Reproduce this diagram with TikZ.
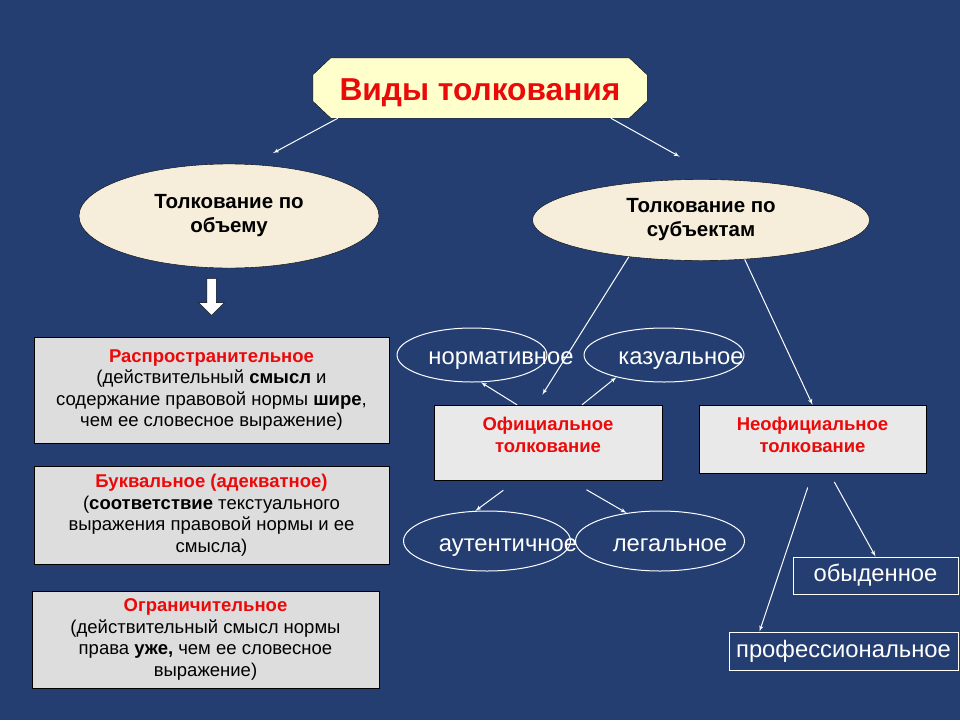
\documentclass[tikz,border=0pt]{standalone}
\usepackage{fontspec}
\setmainfont{Liberation Sans}
\usepackage{tikz}
\usetikzlibrary{shapes,arrows,positioning}
\definecolor{bgblue}{RGB}{36,62,114}
\definecolor{titlefill}{RGB}{255,255,204}
\definecolor{creamfill}{RGB}{246,237,218}
\definecolor{boxgray}{RGB}{221,221,221}
\definecolor{granite}{RGB}{233,233,233}
\definecolor{textred}{RGB}{235,10,10}
\tikzstyle{titleframe} = [rectangle, minimum width = 334pt, minimum height = 60pt, inner sep = 0pt]
\tikzstyle{titleshape} = [draw, fill = titlefill]
\tikzstyle{titletext} = [text = textred, font = \bfseries\fontsize{31.7}{36}\selectfont]
\tikzstyle{topic} = [ellipse, draw, fill = creamfill, inner sep = 0pt, align = center, font = \bfseries\fontsize{20.5}{24}\selectfont]
\tikzstyle{kindbox} = [rectangle, draw, fill = boxgray, minimum width = 355pt, inner sep = 0pt, align = center, font = \fontsize{18.5}{21.5}\selectfont]
\tikzstyle{subjbox} = [rectangle, draw, fill = granite, inner sep = 0pt, align = center, text = textred, font = \bfseries\fontsize{18.5}{22}\selectfont]
\tikzstyle{sortoval} = [ellipse, draw = white, line width = 1pt, inner sep = 0pt]
\tikzstyle{sorttext} = [anchor = base, text = white, inner sep = 0pt, font = \fontsize{23.8}{28}\selectfont]
\tikzstyle{sortbox} = [rectangle, draw = white, line width = 1pt, inner sep = 0pt, text height = 12pt, text depth = 0pt, text = white, font = \fontsize{23.8}{28}\selectfont]
\tikzstyle{downarrow} = [single arrow, shape border rotate = 270, draw, fill = white, minimum height = 37pt, single arrow head extend = 8pt, inner sep = 4.5pt]
\tikzstyle{wline} = [draw, white, line width = 1pt, -latex']
\begin{document}
\begin{tikzpicture}[x = 1pt, y = -1pt]
			\useasboundingbox (0, 0) rectangle (960, 720);
			\fill [bgblue] (0, 0) rectangle (960, 720);
			% Place nodes
			\node [titleframe] (title) at (480, 88) {};
			\path [titleshape] ([xshift = 18pt]title.north west) -- ([xshift = -18pt]title.north east) -- ([yshift = -17pt]title.north east) -- ([yshift = 17pt]title.south east) -- ([xshift = -18pt]title.south east) -- ([xshift = 18pt]title.south west) -- ([yshift = 17pt]title.south west) -- ([yshift = -17pt]title.north west) -- cycle;
			\node [titletext] (titlelabel) at ([yshift = -5pt]title) {Виды толкования};
			\node [topic, minimum width = 300pt, minimum height = 104pt, text depth = 5pt] (vol) at (229, 216) {Толкование по\\объему};
			\node [topic, minimum width = 337pt, minimum height = 81pt, text depth = 5pt] (subj) at (701, 220) {Толкование по\\субъектам};
			\node [downarrow] (volarrow) at (211.5, 294.5) {};
			\node [kindbox, minimum height = 106pt] (wide) at (211.5, 390) {\textcolor{textred}{\textbf{Распространительное}}\\(действительный \textbf{смысл} и\\содержание правовой нормы \textbf{шире},\\чем ее словесное выражение)};
			\node [kindbox, minimum height = 98pt] (literal) at (211.5, 515) {\textcolor{textred}{\textbf{Буквальное (адекватное)}}\\(\textbf{соответствие} текстуального\\выражения правовой нормы и ее\\смысла)};
			\node [kindbox, minimum width = 347pt, minimum height = 97pt] (narrow) at (205.5, 639.5) {\textcolor{textred}{\textbf{Ограничительное}}\\(действительный смысл нормы\\права \textbf{уже,} чем ее словесное\\выражение)};
			\node [sortoval, minimum width = 150pt, minimum height = 54pt] (norm) at (472, 355) {};
			\node [sortoval, minimum width = 160pt, minimum height = 54pt] (kaz) at (664, 355) {};
			\node [sorttext] (normtext) at (501, 364) {нормативное};
			\node [sorttext] (kaztext) at (681, 364) {казуальное};
			\node [subjbox, minimum width = 228pt, minimum height = 75pt, text depth = 16pt] (off) at (548, 442.5) {Официальное\\толкование};
			\node [subjbox, minimum width = 227pt, minimum height = 68pt, text depth = 8pt] (neof) at (812.5, 439) {Неофициальное\\толкование};
			\node [sortoval, minimum width = 167pt, minimum height = 60pt] (aut) at (487, 541) {};
			\node [sortoval, minimum width = 169pt, minimum height = 60pt] (leg) at (660, 541) {};
			\node [sorttext] (auttext) at (508, 551) {аутентичное};
			\node [sorttext] (legtext) at (670, 551) {легальное};
			\node [sortbox, minimum width = 165pt, minimum height = 37pt] (daily) at (875.5, 575.5) {обыденное};
			\node [sortbox, minimum width = 229pt, minimum height = 38pt] (prof) at (843.5, 651) {профессиональное};

			% Draw edges
			\path [wline, shorten >= 24pt] (title.192) -- (vol.66);
			\path [wline, shorten >= 47pt] (title.347) -- (subj.64);
			\path [wline, shorten >= 12pt] (subj.207) -- ([xshift = -12pt]off.north);
			\path [wline] (subj.-42) -- (neof.north);
			\path [wline] ([xshift = -31pt]off.north) -- (norm.-72);
			\path [wline] ([xshift = 34pt]off.north) -- (kaz.205);
			\path [wline, shorten <= 17pt] ([xshift = -31pt]off.south) -- (aut.111);
			\path [wline, shorten <= 19pt] ([xshift = 22pt]off.south) -- (leg.140);
			\path [wline, shorten <= 15pt] (neof.south) -- ([xshift = -84pt]prof.north);
			\path [wline, shorten <= 10pt] ([xshift = 17pt]neof.south) -- (daily.north);
		\end{tikzpicture}
\end{document}
